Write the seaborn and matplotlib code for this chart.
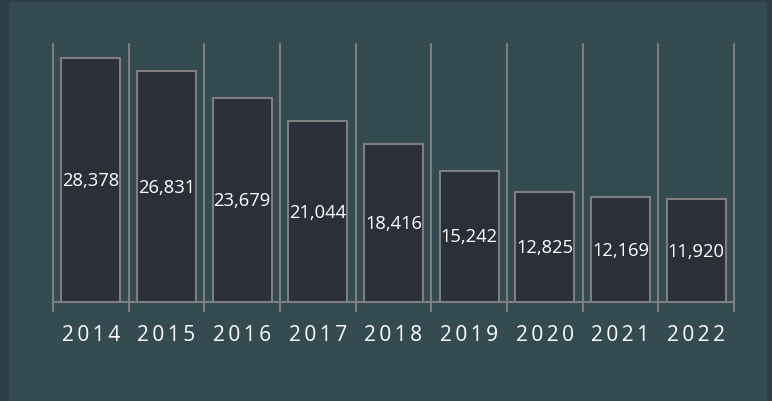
import matplotlib
matplotlib.use("Agg")
import matplotlib.pyplot as plt
import seaborn as sns
import pandas as pd
from matplotlib.patches import Rectangle

years = ["2014", "2015", "2016", "2017", "2018", "2019", "2020", "2021", "2022"]
values = [28378, 26831, 23679, 21044, 18416, 15242, 12825, 12169, 11920]

df = pd.DataFrame({"year": years, "value": values})

sns.set_theme(style="white")
plt.rcParams['font.family'] = ['Open Sans', 'DejaVu Sans']

W, H = 772, 402
fig = plt.figure(figsize=(W / 100, H / 100), dpi=100)
fig.patch.set_facecolor("#2f3f47")
fig.patches.append(Rectangle((9 / W, 0), (767 - 9) / W, (H - 3) / H,
                             transform=fig.transFigure, facecolor="#344b52",
                             edgecolor="none", zorder=-5))

ax = fig.add_axes([53 / W, (H - 303) / H, (734 - 53) / W, (303 - 45) / H])
ax.set_zorder(2)
ax.set_facecolor("none")

sns.barplot(data=df, x="year", y="value", ax=ax, color="#2b2f3a",
            width=0.78, edgecolor="#7f7f7f", linewidth=1.5, saturation=1, zorder=3)

ax.set_ylim(0, 30000)
ax.set_xlim(-0.5, len(years) - 0.5)

# vertical gridlines at category boundaries
for b in [i - 0.5 for i in range(len(years) + 1)]:
    ax.axvline(b, color="#7f7f7f", linewidth=1.5, zorder=1, ymin=0, ymax=1,
               clip_on=False)

for i, v in enumerate(values):
    ax.text(i, v / 2, f"{v:,}", ha="center", va="center", color="white",
            fontsize=13.2, zorder=5)

for s in ["top", "right", "left"]:
    ax.spines[s].set_visible(False)
ax.spines["bottom"].set_color("#7f7f7f")
ax.spines["bottom"].set_linewidth(1.5)

ax.set_yticks([])
ax.set_xticks([i - 0.5 for i in range(len(years) + 1)], minor=True)
ax.set_xticks(range(len(years)))
ax.set_xticklabels(["\u2009".join(y) for y in years], color="white", fontsize=15)
ax.tick_params(axis="x", which="major", length=0, pad=16)
ax.tick_params(axis="x", which="minor", length=7, width=1.5, color="#7f7f7f", bottom=True)
ax.set_xlabel("")
ax.set_ylabel("")

fig.savefig("out.png", dpi=100, facecolor=fig.get_facecolor())
